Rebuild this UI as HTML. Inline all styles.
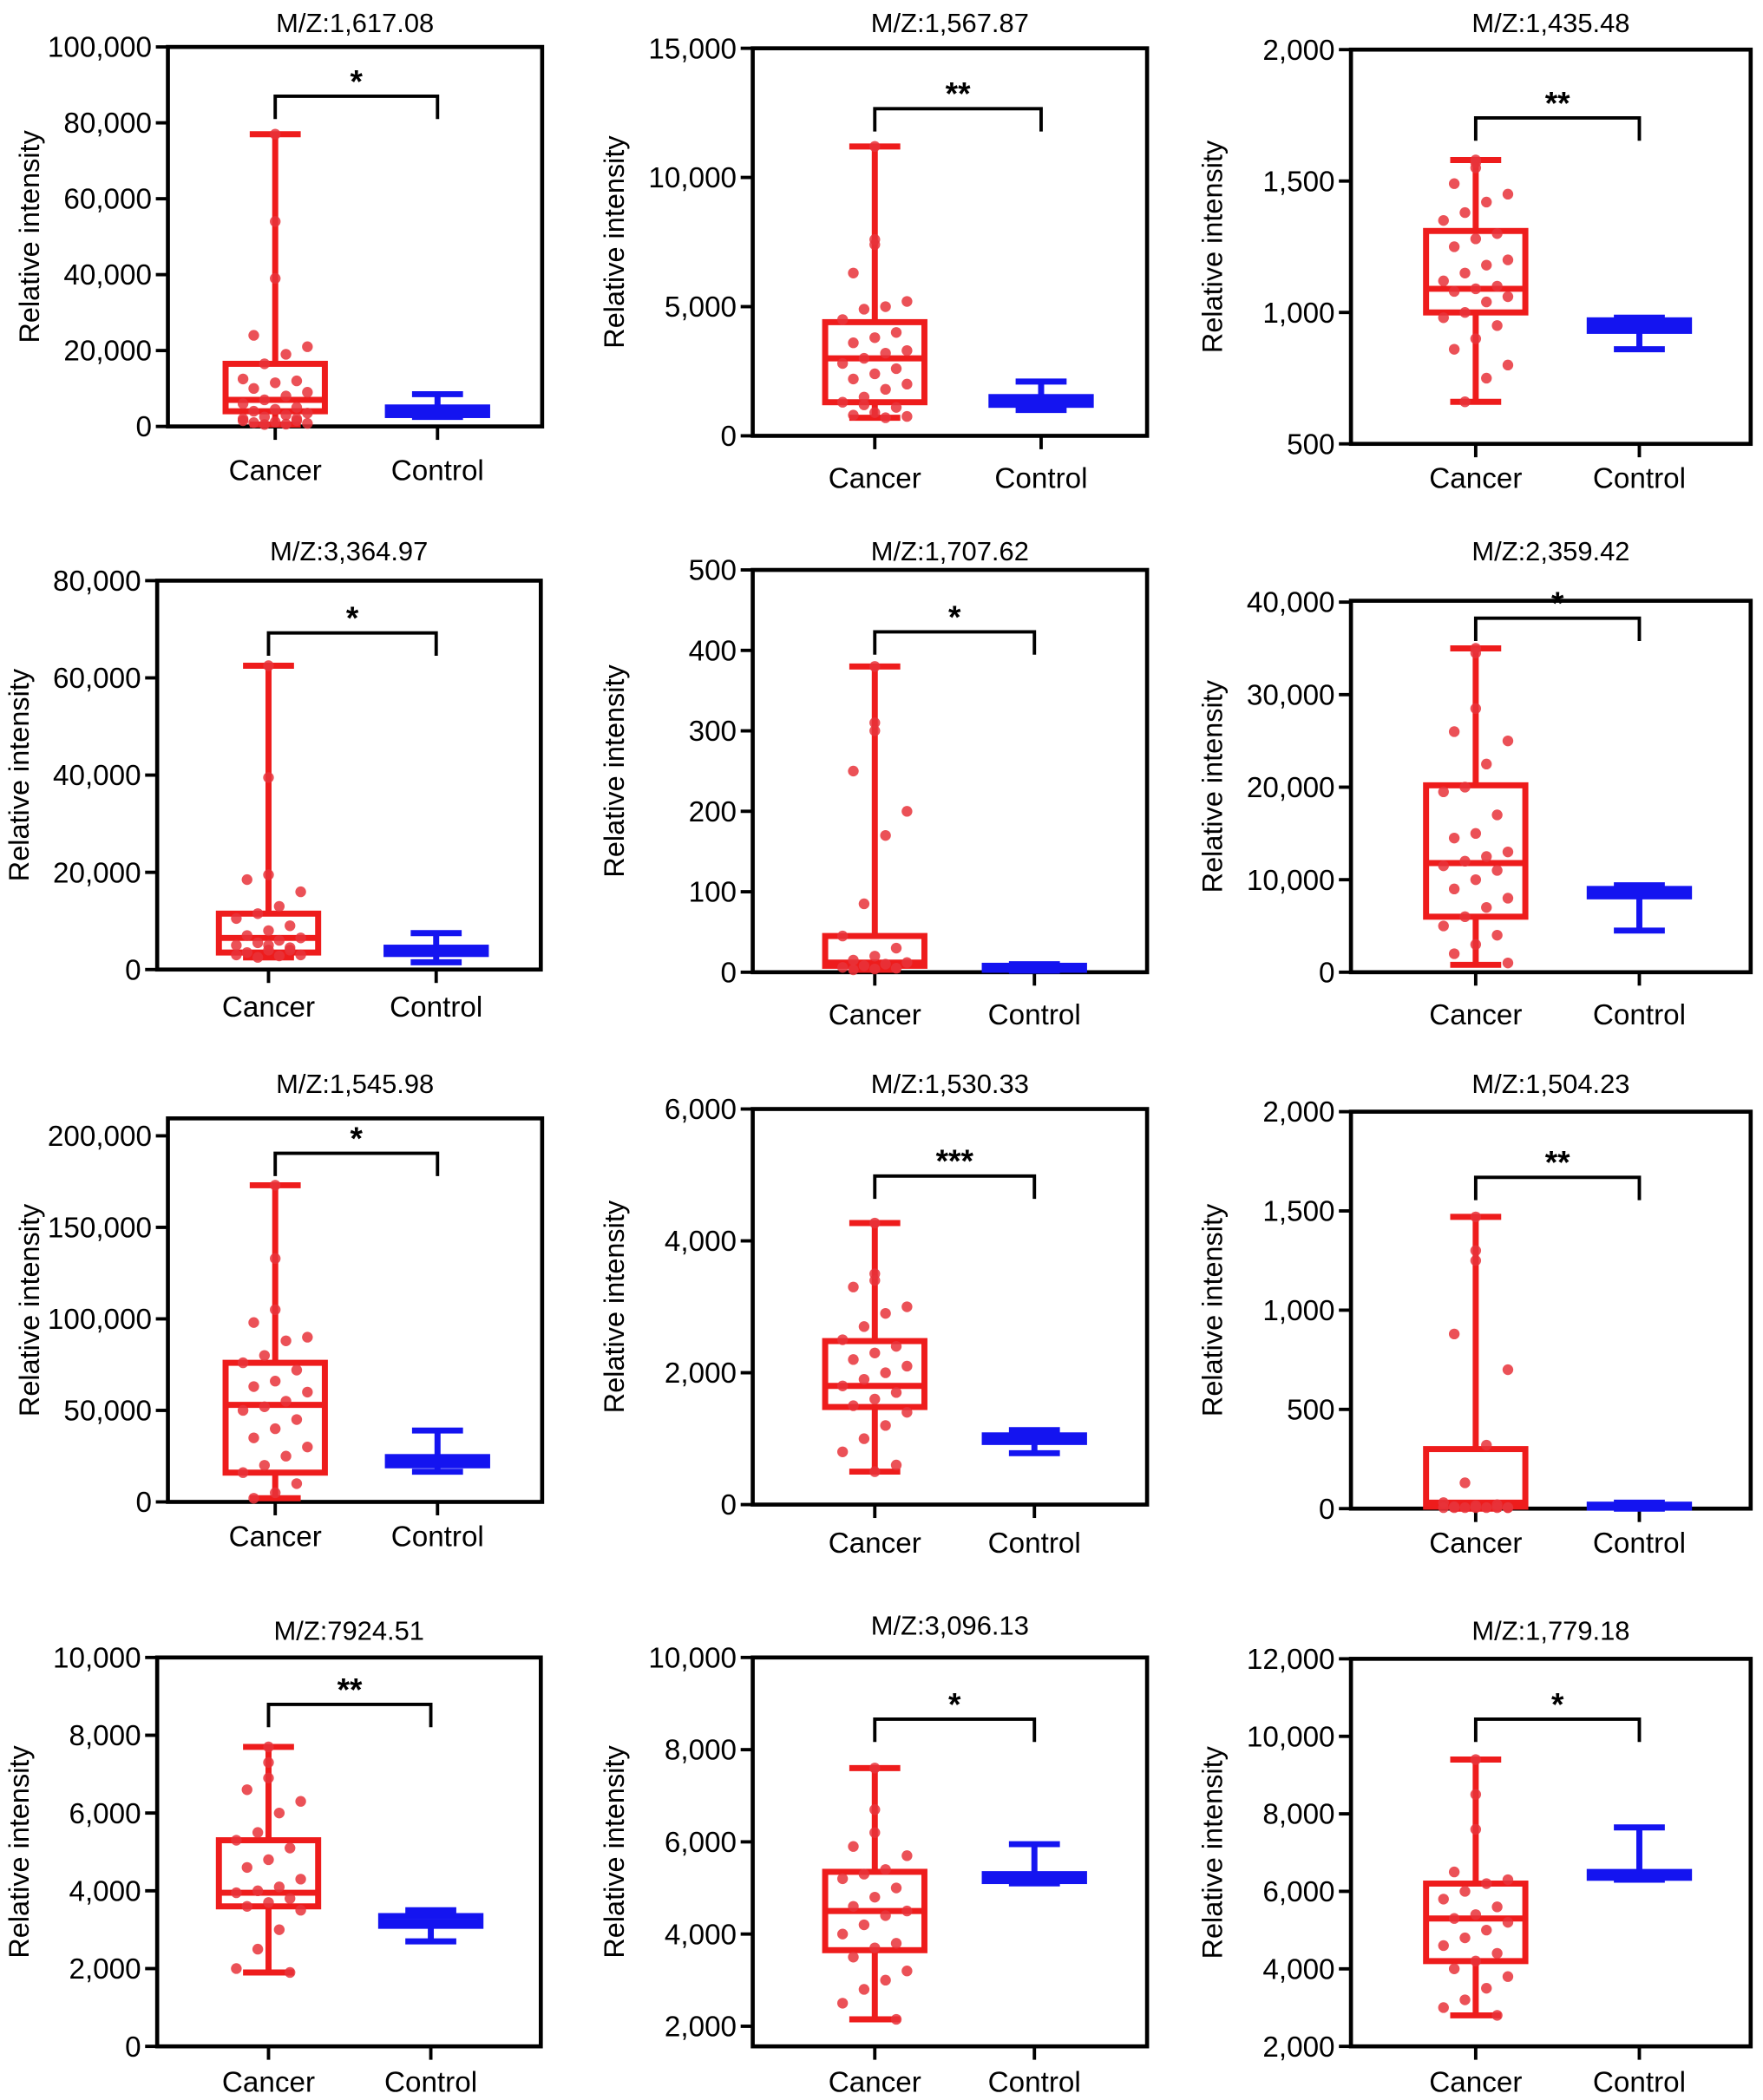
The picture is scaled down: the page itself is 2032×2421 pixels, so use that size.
<!DOCTYPE html>
<html><head><meta charset="utf-8"><style>
html,body{margin:0;padding:0;background:#fff}
svg{display:block}
text{font-family:"Liberation Sans",Arial,sans-serif;fill:#000}
</style></head><body>
<svg id="fig" width="2032" height="2421" viewBox="0 0 1314 1566" xmlns="http://www.w3.org/2000/svg"></svg>
<script>
// ---- data (stats = [min, q1, median, q3, max]) ----
const titles = ["M/Z:1,617.08","M/Z:1,567.87","M/Z:1,435.48","M/Z:3,364.97","M/Z:1,707.62","M/Z:2,359.42","M/Z:1,545.98","M/Z:1,530.33","M/Z:1,504.23","M/Z:7924.51","M/Z:3,096.13","M/Z:1,779.18"];
const categories = ["Cancer","Control"];
const stars = ["*","**","**","*","*","*","*","***","**","**","*","*"];
const bracketValues = [87000,12660,1740,69240,423,38260,190476,4983,1669,8793,8662,10443];
const yTicks1 = [0,20000,40000,60000,80000,100000];
const yTicks2 = [0,5000,10000,15000];
const yTicks3 = [500,1000,1500,2000];
const yTicks4 = [0,20000,40000,60000,80000];
const yTicks5 = [0,100,200,300,400,500];
const yTicks6 = [0,10000,20000,30000,40000];
const yTicks7 = [0,50000,100000,150000,200000];
const yTicks8 = [0,2000,4000,6000];
const yTicks9 = [0,500,1000,1500,2000];
const yTicks10 = [0,2000,4000,6000,8000,10000];
const yTicks11 = [2000,4000,6000,8000,10000];
const yTicks12 = [2000,4000,6000,8000,10000,12000];
const cancerStats1=[500,4000,7000,16500,77000], controlStats1=[2500,3000,4500,5000,8500];
const cancerStats2=[700,1300,3000,4400,11200], controlStats2=[1000,1200,1350,1500,2100];
const cancerStats3=[660,1000,1090,1310,1580], controlStats3=[860,930,950,970,980];
const cancerStats4=[2500,3500,6500,11500,62500], controlStats4=[1500,3200,4000,4500,7500];
const cancerStats5=[3,8,12,45,380], controlStats5=[2,3,5,8,10];
const cancerStats6=[800,6000,11800,20200,35000], controlStats6=[4500,8200,8700,9000,9400];
const cancerStats7=[2000,16000,53000,76000,173000], controlStats7=[16500,20000,22500,24500,39000];
const cancerStats8=[500,1480,1800,2480,4270], controlStats8=[780,950,1000,1050,1130];
const cancerStats9=[0,10,30,300,1470], controlStats9=[0,5,10,20,30];
const cancerStats10=[1900,3600,3950,5300,7700], controlStats10=[2700,3100,3200,3350,3500];
const cancerStats11=[2150,3650,4500,5350,7600], controlStats11=[5100,5150,5200,5300,5950];
const cancerStats12=[2800,4200,5300,6200,9400], controlStats12=[6300,6350,6400,6500,7650];
const cancerPts1=[77000,54000,39000,24000,21000,19000,16500,12500,12000,11500,10000,9000,8000,7000,6000,5000,4500,4000,3500,3000,2500,2000,1500,1200,1000,800,600,500,1500,2000];
const cancerPts2=[11200,7600,7400,6300,5200,5000,4900,4500,4000,3800,3600,3300,3200,3000,2800,2600,2400,2200,2000,1800,1500,1300,1100,900,800,750,700,1200];
const cancerPts3=[1580,1570,1550,1490,1450,1420,1380,1350,1300,1280,1250,1200,1180,1150,1120,1100,1090,1080,1060,1040,1000,980,950,900,860,800,750,660];
const cancerPts4=[62500,39500,19500,18500,16000,13000,11500,10500,9000,8000,7000,6500,6000,5500,5000,4500,4000,3500,3000,2800,2500,3000,4000,5000];
const cancerPts5=[380,310,300,250,200,170,85,45,30,20,15,12,10,8,6,5,4,3];
const cancerPts6=[35000,34500,28500,26000,25000,22500,20000,19500,17000,15000,14500,13000,12500,12000,11500,11000,10000,9000,8000,7000,6000,5000,4000,3000,2000,1000];
const cancerPts7=[173000,133000,105000,98000,90000,88000,80000,76000,72000,66000,63000,60000,55000,52000,50000,45000,40000,35000,30000,25000,20000,16000,10000,5000,2000];
const cancerPts8=[4270,3500,3400,3300,3000,2900,2700,2500,2400,2300,2200,2100,2000,1900,1800,1700,1600,1500,1400,1200,1000,800,600,500];
const cancerPts9=[1470,1300,1250,880,700,320,130,30,20,15,10,5,5,5,5,5,5,5,5];
const cancerPts10=[7700,7300,6900,6600,6300,6000,5500,5300,5100,4800,4600,4300,4100,4000,3950,3800,3700,3600,3500,3000,2500,2000,1900];
const cancerPts11=[7600,6700,6200,5900,5700,5400,5300,5200,5000,4800,4600,4500,4400,4200,4000,3800,3700,3500,3200,3000,2800,2500,2150];
const cancerPts12=[9400,8500,7600,6500,6300,6200,6000,5800,5600,5400,5300,5200,5000,4800,4600,4400,4200,4000,3800,3500,3200,3000,2800];
const tickSets=[yTicks1,yTicks2,yTicks3,yTicks4,yTicks5,yTicks6,yTicks7,yTicks8,yTicks9,yTicks10,yTicks11,yTicks12];
const cStats=[cancerStats1,cancerStats2,cancerStats3,cancerStats4,cancerStats5,cancerStats6,cancerStats7,cancerStats8,cancerStats9,cancerStats10,cancerStats11,cancerStats12];
const kStats=[controlStats1,controlStats2,controlStats3,controlStats4,controlStats5,controlStats6,controlStats7,controlStats8,controlStats9,controlStats10,controlStats11,controlStats12];
const cPts=[cancerPts1,cancerPts2,cancerPts3,cancerPts4,cancerPts5,cancerPts6,cancerPts7,cancerPts8,cancerPts9,cancerPts10,cancerPts11,cancerPts12];

// ---- layout (display coords): [left, right, boxTop, boxBottom, yPixMinTick, yPixMaxTick, cancerX, controlX, titleY, labelY]
const layout=[
 [125,404,35,318,318,35,205,326,17,351],
 [561,855,36,325,325,36,652,776,17,357],
 [1007,1305,37,331,331,37,1100,1222,17,357],
 [117,403,433,723,723,433,200,325,411,751],
 [561,855,425,725,725,425,652,771,411,757],
 [1007,1305,448,725,725,449,1100,1222,411,757],
 [125,404,834,1120,1120,847,205,326,808,1146],
 [561,855,827,1122,1122,827,652,771,808,1151],
 [1007,1305,829,1125,1125,829,1100,1222,808,1151],
 [117,403,1236,1526,1526,1236,200,321,1216,1553],
 [561,855,1236,1526,1511,1236,652,771,1212,1553],
 [1007,1305,1237,1526,1526,1237,1100,1222,1216,1553]
];
const NS="http://www.w3.org/2000/svg";
const svg=document.getElementById('fig');
function mk(tag,attrs,parent){const e=document.createElementNS(NS,tag);for(const k in attrs)e.setAttribute(k,attrs[k]);(parent||svg).appendChild(e);return e;}
function fmt(v){return v.toLocaleString('en-US');}

for(let p=0;p<12;p++){
  const [L,R,T,B,yMinPix,yMaxPix,cx,kx,ty,ly]=layout[p];
  const ticks=tickSets[p];
  const v0=ticks[0], v1=ticks[ticks.length-1];
  const y=v=>yMinPix+(v-v0)/(v1-v0)*(yMaxPix-yMinPix);
  const g=mk('g',{});
  
  
  const t=mk('text',{x:(L+R)/2,y:ty+7,'text-anchor':'middle','font-size':20},g);
  t.textContent=titles[p];
  
  
  ticks.forEach(v=>{
    const yy=y(v);
    const tl=mk('line',{x1:L-9,x2:L,y1:yy,y2:yy,stroke:'#000','stroke-width':2.5},g);
    
    
    const tx=mk('text',{x:L-12,y:yy+7.5,'text-anchor':'end','font-size':21.5},g);
    tx.textContent=fmt(v);
    
    
  });
  const yt=mk('text',{transform:`translate(${L-96},${(T+B)/2}) rotate(-90)`,'text-anchor':'middle','font-size':21},g);
  yt.textContent='Relative intensity';
  
  
  const fr=mk('rect',{x:L,y:T,width:R-L,height:B-T,fill:'none',stroke:'#000','stroke-width':3},g);
  
  
  [cx,kx].forEach((xx,i)=>{
    const l=mk('line',{x1:xx,x2:xx,y1:B,y2:B+10,stroke:'#000','stroke-width':2.5},g);
    
    
    const tx=mk('text',{x:xx,y:ly+7,'text-anchor':'middle','font-size':21.5},g);
    tx.textContent=categories[i];
    
    
  });
  function box(xc,s,color,name){
    const bg=mk('g',{stroke:color,fill:'none','stroke-width':4.5},g);
    
    
    mk('line',{x1:xc,x2:xc,y1:y(s[0]),y2:y(s[1])},bg);
    mk('line',{x1:xc,x2:xc,y1:y(s[3]),y2:y(s[4])},bg);
    mk('line',{x1:xc-19,x2:xc+19,y1:y(s[0]),y2:y(s[0])},bg);
    mk('line',{x1:xc-19,x2:xc+19,y1:y(s[4]),y2:y(s[4])},bg);
    mk('rect',{x:xc-37,y:y(s[3]),width:74,height:Math.max(0.5,y(s[1])-y(s[3]))},bg);
    mk('line',{x1:xc-37,x2:xc+37,y1:y(s[2]),y2:y(s[2])},bg);
  }
  box(cx,cStats[p],'#ee1c1c','cancer-box');
  box(kx,kStats[p],'#1414f0','control-box');
  cPts[p].forEach((v,i)=>{
    const off=i<3?0:((i*5)%7-3)*8;
    const c=mk('circle',{cx:cx+off,cy:y(v),r:4,fill:'#e8333a','fill-opacity':0.85},g);
    
    
  });
  const by=y(bracketValues[p]);
  const br=mk('path',{d:`M${cx},${by+17} V${by} H${kx} V${by+17}`,fill:'none',stroke:'#000','stroke-width':2.5},g);
  
  
  const st=mk('text',{x:(cx+kx)/2,y:by-3,'text-anchor':'middle','font-size':24,'font-weight':'bold'},g);
  st.textContent=stars[p];
  
  
}
</script>
</body></html>
